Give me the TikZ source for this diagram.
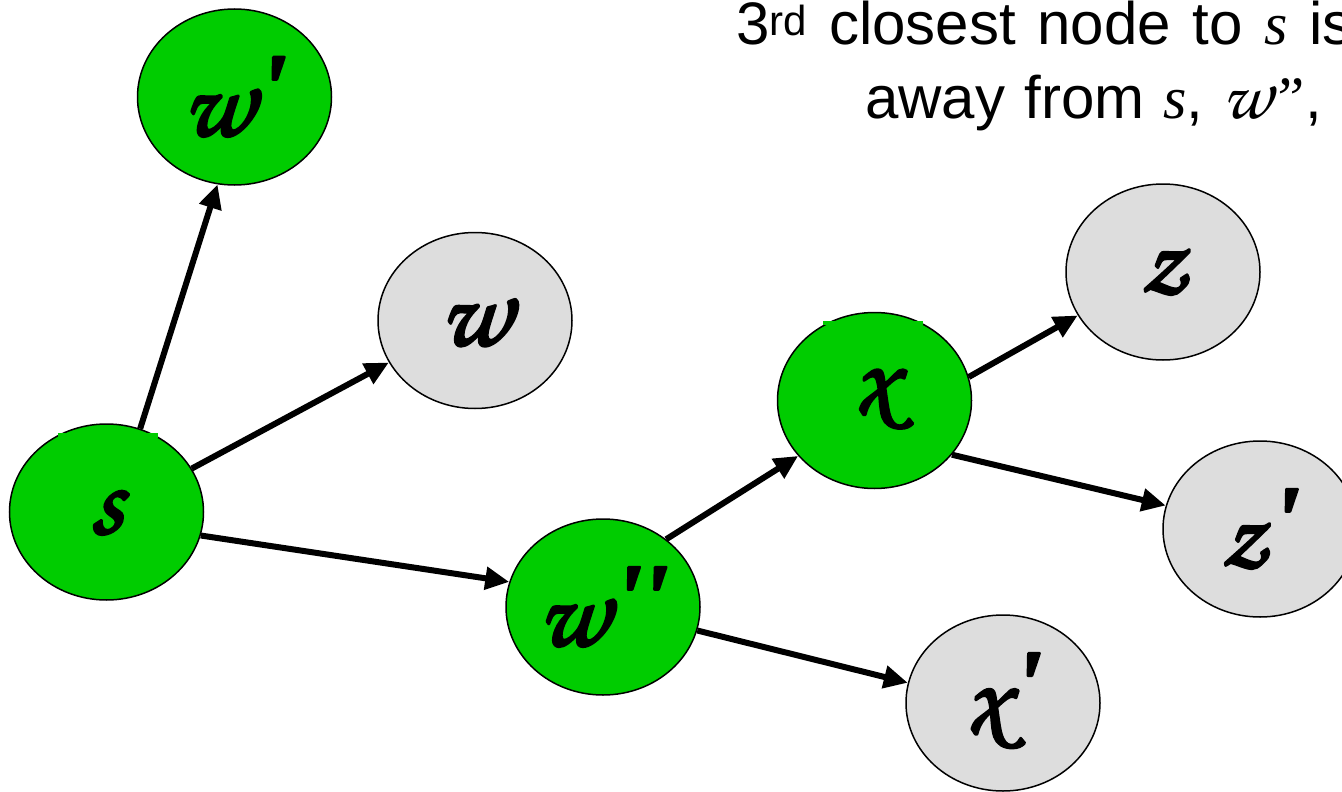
\documentclass[tikz,border=0pt]{standalone}
\usepackage[T1,TU]{fontenc}
\usepackage{fontspec}
\setmainfont{Liberation Sans}[WordSpace=1.3]
\newfontfamily\linetwo{Liberation Sans}[WordSpace=1.15]
\newfontfamily\tnr{Liberation Serif}
\usetikzlibrary{shapes.geometric,arrows.meta}
\definecolor{ngreen}{RGB}{0,204,0}
\definecolor{ngray}{RGB}{221,221,221}
\makeatletter
\newcommand\heavytext[1]{\pgfsys@invoke{q 2 Tr 2.8 w 1 j 0 G 0 g}#1\pgfsys@invoke{Q}}
\makeatother
\newcommand\scrfont[1]{\fontencoding{T1}\fontfamily{pzc}\fontseries{mb}\fontshape{it}\fontsize{#1}{#1}\selectfont}
\newcommand\primesym[1]{\hspace{7pt}\raisebox{16pt}{\fontencoding{TU}\tnr\bfseries\itshape\fontsize{95}{95}\selectfont #1}}
\newcommand\nlab[2]{\heavytext{{\scrfont{103}#1}#2}}
\tikzset{
  x=1pt, y=-1pt,
  vertex/.style={ellipse, draw=black, line width=1.5pt, inner sep=0pt,
    minimum width=194pt, minimum height=176pt},
  done/.style={vertex, fill=ngreen},
  open/.style={vertex, fill=ngray},
  arr/.style={line width=6pt, -{Triangle[length=24pt,width=22pt]}},
  toptext/.style={anchor=base west, inner sep=0pt, font=\fontsize{60}{60}\selectfont}
}
\begin{document}
\begin{tikzpicture}
\useasboundingbox (0,0) rectangle (1342,792);
\clip (0,0) rectangle (1342,792);
\node[done] (s) at (106.5,512) {\nlab{s}{}};
\node[done] (wp) at (234.5,97) {\nlab{w}{\primesym{\textquotesingle}}};
\node[open] (w) at (475,320.5) {\nlab{w}{}};
\node[done] (wpp) at (603,607) {\nlab{w}{\primesym{\textquotesingle\textquotesingle}}};
\node[done] (x) at (874.5,400.5) {\nlab{x}{}};
\node[open] (z) at (1163,272) {\nlab{z}{}};
\node[open] (zp) at (1260,529) {\nlab{z}{\primesym{\textquotesingle}}};
\node[open] (xp) at (1003,703) {\nlab{x}{\primesym{\textquotesingle}}};
\fill[ngreen] (58,433) rectangle (158,438);
\fill[ngreen] (823,321) rectangle (923,325);
\draw[arr] (s.68.9) -- (wp.259.4);
\draw[arr] (s.27.3) -- (w.206.8);
\draw[arr] (s.-14.9) -- (wpp.165.5);
\draw[arr] (wpp.47.6) -- (x.216.1);
\draw[arr] (wpp.-14.3) -- (xp.168);
\draw[arr] (x.14.1) -- (z.207.4);
\draw[arr] (x.-35.2) -- (zp.166.8);
\node[toptext] (t1) at (736,45) {3\textsuperscript{rd} closest node to {\tnr\itshape s} is};
\node[toptext] (t2) at (865,118) {\linetwo away from {\tnr\itshape s}, {\scrfont{72}w}{\tnr\itshape ”}, or};
\end{tikzpicture}
\end{document}
